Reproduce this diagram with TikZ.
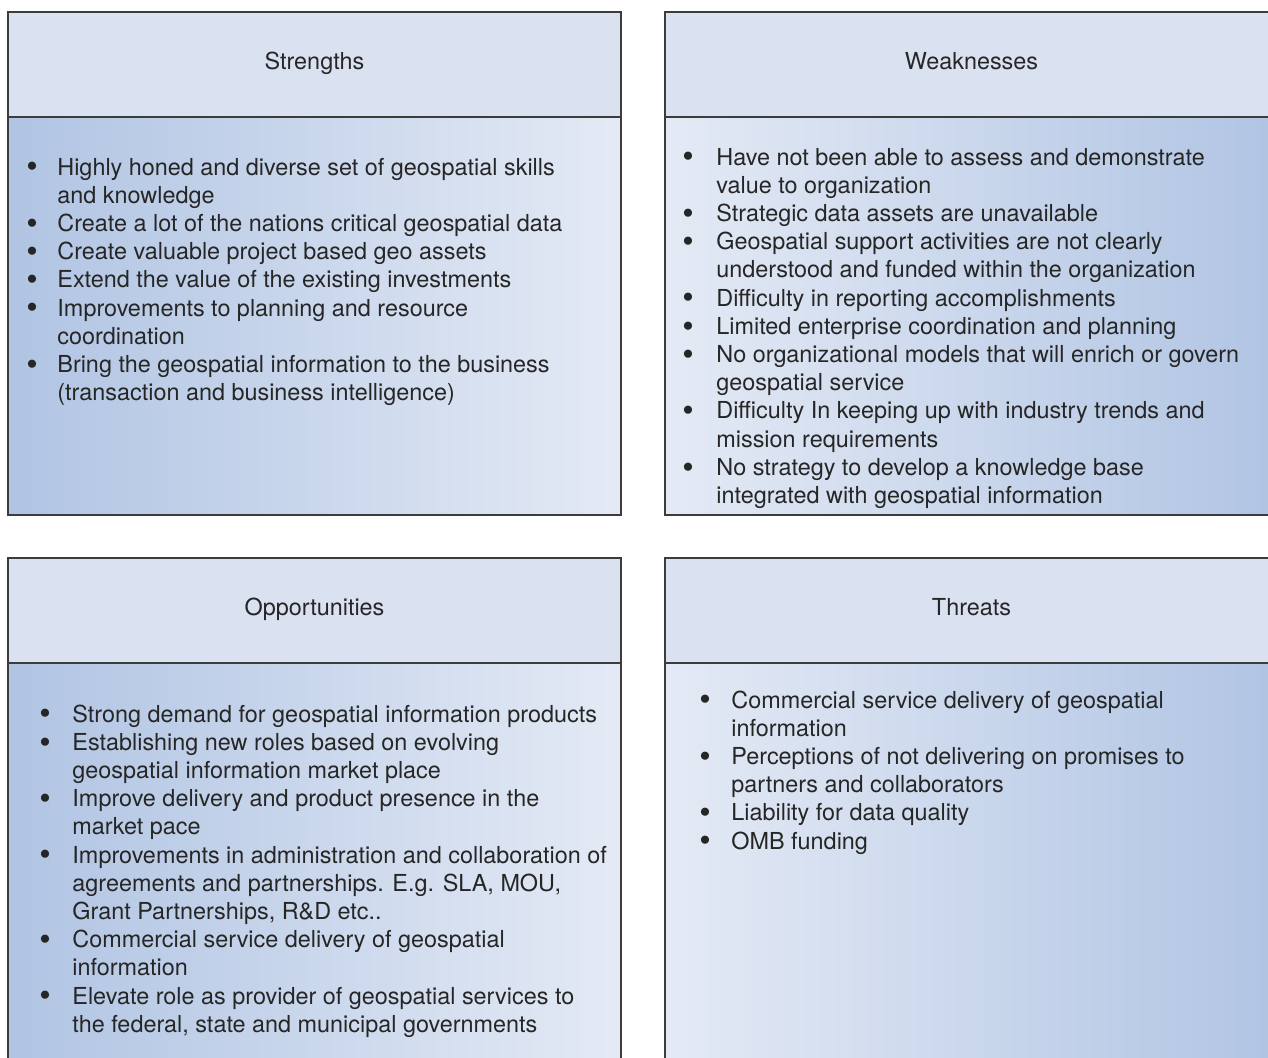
\documentclass[tikz,border=0pt]{standalone}
\usepackage{fontspec}
\setmainfont{TeX Gyre Heros}
\usepackage{tikz}
\usepackage{graphicx}
\usepackage{xcolor}
\definecolor{swotline}{RGB}{60, 60, 60}
\definecolor{swothead}{RGB}{218, 225, 240}
\definecolor{swotdark}{RGB}{176, 196, 227}
\definecolor{swotlight}{RGB}{228, 234, 245}
\definecolor{swottext}{RGB}{38, 38, 38}
\usetikzlibrary{positioning}
\newcommand{\bul}{\smash{\raisebox{-0.12em}{\scalebox{1.4}{\textbullet}}}}
\newcommand{\swotlist}[2]{\begin{tabular}[t]{@{}p{#1}@{}l@{}}#2\end{tabular}}

\begin{document}
\begin{tikzpicture}[x=0.5pt, y=-0.5pt, font=\fontsize{11.7}{14.1}\selectfont,
    headbox/.style={draw=swotline, line width=1pt, fill=swothead, text=swottext,
        minimum width=306.5pt, minimum height=52.5pt, text height=0.75em, text depth=0.25em},
    bodyleft/.style={draw=swotline, line width=1pt, left color=swotdark, right color=swotlight,
        minimum width=306.5pt, minimum height=199pt},
    bodyright/.style={draw=swotline, line width=1pt, left color=swotlight, right color=swotdark,
        minimum width=306.5pt, minimum height=199pt},
    itemtext/.style={anchor=base west, inner sep=0pt, text=swottext}]
    \useasboundingbox (0, 0) rectangle (1268, 1057);
    \clip (0, 0) rectangle (1268, 1057);

    % Strengths
    \node[bodyleft] (strbody) at (314.5, 316) {};
    \node[headbox] (strhead) at (314.5, 64.5) {Strengths};
    \node[itemtext] (strlist) at (26, 175) {\swotlist{15.5pt}{
        \bul & Highly honed and diverse set of geospatial skills\\
             & and knowledge\\
        \bul & Create a lot of the nations critical geospatial data\\
        \bul & Create valuable project based geo assets\\
        \bul & Extend the value of the existing investments\\
        \bul & Improvements to planning and resource\\
             & coordination\\
        \bul & Bring the geospatial information to the business\\
             & (transaction and business intelligence)}};

    % Weaknesses
    \node[bodyright] (weakbody) at (971.5, 316) {};
    \node[headbox] (weakhead) at (971.5, 64.5) {Weaknesses};
    \node[itemtext] (weaklist) at (682, 165) {\swotlist{17pt}{
        \bul & Have not been able to assess and demonstrate\\
             & value to organization\\
        \bul & Strategic data assets are unavailable\\
        \bul & Geospatial support activities are not clearly\\
             & understood and funded within the organization\\
        \bul & Difficulty in reporting accomplishments\\
        \bul & Limited enterprise coordination and planning\\
        \bul & No organizational models that will enrich or govern\\
             & geospatial service\\
        \bul & Difficulty In keeping up with industry trends and\\
             & mission requirements\\
        \bul & No strategy to develop a knowledge base\\
             & integrated with geospatial information}};

    % Opportunities
    \node[bodyleft] (oppbody) at (314.5, 862) {};
    \node[headbox] (opphead) at (314.5, 610.5) {Opportunities};
    \node[itemtext] (opplist) at (39, 722) {\swotlist{16.5pt}{
        \bul & Strong demand for geospatial information products\\
        \bul & Establishing new roles based on evolving\\
             & geospatial information market place\\
        \bul & Improve delivery and product presence in the\\
             & market pace\\
        \bul & Improvements in administration and collaboration of\\
             & agreements and partnerships. E.g. SLA, MOU,\\
             & Grant Partnerships, R\&D etc..\\
        \bul & Commercial service delivery of geospatial\\
             & information\\
        \bul & Elevate role as provider of geospatial services to\\
             & the federal, state and municipal governments}};

    % Threats
    \node[bodyright] (thrbody) at (971.5, 862) {};
    \node[headbox] (thrhead) at (971.5, 610.5) {Threats};
    \node[itemtext] (thrlist) at (699, 708) {\swotlist{16pt}{
        \bul & Commercial service delivery of geospatial\\
             & information\\
        \bul & Perceptions of not delivering on promises to\\
             & partners and collaborators\\
        \bul & Liability for data quality\\
        \bul & OMB funding}};
\end{tikzpicture}
\end{document}
